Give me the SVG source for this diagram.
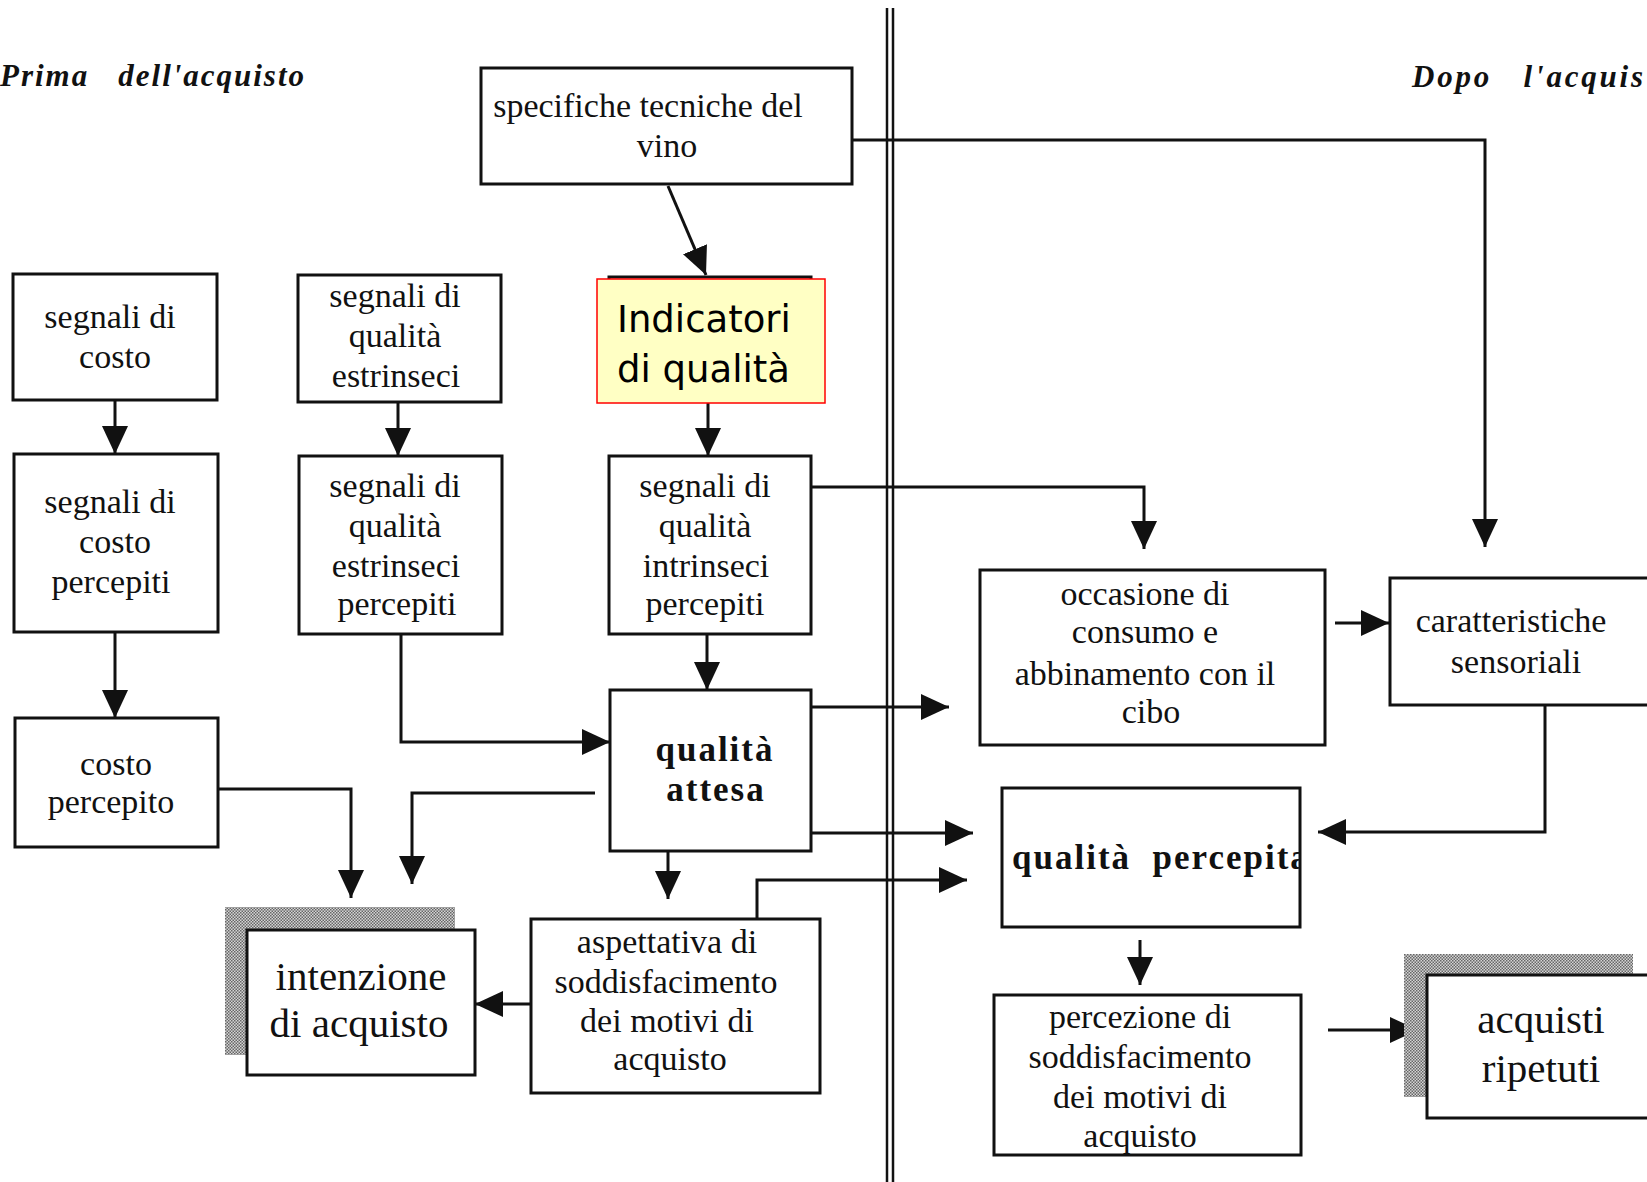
<svg xmlns="http://www.w3.org/2000/svg" width="1647" height="1182" viewBox="0 0 1647 1182">
<style>
.box{fill:#fff;stroke:#111;stroke-width:3}
.t{font-family:"Liberation Serif","Times New Roman",serif;font-size:34px;fill:#111;text-anchor:middle}
.big{font-size:41px}
.b{font-family:"Liberation Serif","Times New Roman",serif;font-size:35px;font-weight:bold;fill:#111;letter-spacing:2px}
.hdr{font-family:"Liberation Serif","Times New Roman",serif;font-size:31px;font-weight:bold;font-style:italic;fill:#111}
.c{fill:none;stroke:#111;stroke-width:3}
.ind{font-family:"DejaVu Sans","Verdana",sans-serif;font-size:37px;fill:#000}
</style>
<defs>
<marker id="ah" markerUnits="userSpaceOnUse" markerWidth="30" markerHeight="28" refX="28" refY="13" orient="auto">
<path d="M0,0 L28,13 L0,26 z" fill="#111"/>
</marker>
<pattern id="dots" width="3" height="3" patternUnits="userSpaceOnUse">
<rect width="3" height="3" fill="#d4d4d4"/>
<rect width="1.5" height="1.5" fill="#666"/>
<rect x="1.5" y="1.5" width="1.5" height="1.5" fill="#666"/>
</pattern>
<clipPath id="qpClip"><rect x="1004" y="790" width="295" height="135"/></clipPath>
</defs>
<rect width="1647" height="1182" fill="#fff"/>

<g id="headers">
<text class="hdr" x="0" y="86" xml:space="preserve" textLength="304" lengthAdjust="spacing">Prima   dell'acquisto</text>
<text class="hdr" x="1412" y="87" xml:space="preserve" textLength="231" lengthAdjust="spacing">Dopo   l'acquis</text>
</g>

<g id="divider">
<line x1="887" y1="8" x2="887" y2="1182" stroke="#111" stroke-width="2.5"/>
<line x1="893" y1="8" x2="893" y2="1182" stroke="#111" stroke-width="2.5"/>
</g>

<g id="connectors">
<path class="c" d="M668,186 L706,275" stroke-width="4" marker-end="url(#ah)"/>
<path class="c" d="M853,140 H1485 V547" marker-end="url(#ah)"/>
<path class="c" d="M115,400 V454" marker-end="url(#ah)"/>
<path class="c" d="M398,402 V456" marker-end="url(#ah)"/>
<path class="c" d="M708,403 V456" marker-end="url(#ah)"/>
<path class="c" d="M115,632 V718" marker-end="url(#ah)"/>
<path class="c" d="M401,634 V742 H610" marker-end="url(#ah)"/>
<path class="c" d="M707,634 V690" marker-end="url(#ah)"/>
<path class="c" d="M812,487 H1144 V549" marker-end="url(#ah)"/>
<path class="c" d="M812,707 H949" marker-end="url(#ah)"/>
<path class="c" d="M812,833 H973" marker-end="url(#ah)"/>
<path class="c" d="M757,919 V880 H967" marker-end="url(#ah)"/>
<path class="c" d="M218,789 H351 V898" marker-end="url(#ah)"/>
<path class="c" d="M595,793 H412 V884" marker-end="url(#ah)"/>
<path class="c" d="M668,851 V899" marker-end="url(#ah)"/>
<path class="c" d="M531,1004 H475" stroke-width="4" marker-end="url(#ah)"/>
<path class="c" d="M1335,623 H1389" marker-end="url(#ah)"/>
<path class="c" d="M1545,705 V832 H1318" marker-end="url(#ah)"/>
<path class="c" d="M1140,940 V985" marker-end="url(#ah)"/>
<path class="c" d="M1328,1030 H1418" marker-end="url(#ah)"/>
</g>

<g id="specifiche">
<rect class="box" x="481" y="68" width="371" height="116"/>
<text class="t" x="648" y="117">specifiche tecniche del</text>
<text class="t" x="667" y="157">vino</text>
</g>

<g id="indicatori">
<rect class="box" x="609" y="277" width="202" height="123"/>
<rect x="597" y="279" width="228" height="124" fill="#FFFFC4" stroke="#f00" stroke-width="1.5"/>
<text class="ind" x="617" y="332">Indicatori</text>
<text class="ind" x="617" y="382">di qualità</text>
</g>

<g id="segnali-costo">
<rect class="box" x="13" y="274" width="204" height="126"/>
<text class="t" x="110" y="328">segnali di</text>
<text class="t" x="115" y="368">costo</text>
</g>

<g id="segnali-estrinseci">
<rect class="box" x="298" y="275" width="203" height="127"/>
<text class="t" x="395" y="307">segnali di</text>
<text class="t" x="395" y="347">qualità</text>
<text class="t" x="396" y="387">estrinseci</text>
</g>

<g id="costo-percepiti">
<rect class="box" x="14" y="454" width="204" height="178"/>
<text class="t" x="110" y="513">segnali di</text>
<text class="t" x="115" y="553">costo</text>
<text class="t" x="111" y="593">percepiti</text>
</g>

<g id="estrinseci-percepiti">
<rect class="box" x="299" y="456" width="203" height="178"/>
<text class="t" x="395" y="497">segnali di</text>
<text class="t" x="395" y="537">qualità</text>
<text class="t" x="396" y="577">estrinseci</text>
<text class="t" x="397" y="615">percepiti</text>
</g>

<g id="intrinseci-percepiti">
<rect class="box" x="609" y="456" width="202" height="178"/>
<text class="t" x="705" y="497">segnali di</text>
<text class="t" x="705" y="537">qualità</text>
<text class="t" x="706" y="577">intrinseci</text>
<text class="t" x="705" y="615">percepiti</text>
</g>

<g id="costo-percepito">
<rect class="box" x="15" y="718" width="203" height="129"/>
<text class="t" x="116" y="775">costo</text>
<text class="t" x="111" y="813">percepito</text>
</g>

<g id="qualita-attesa">
<rect class="box" x="610" y="690" width="201" height="161"/>
<text class="b" x="715" y="761" text-anchor="middle">qualità</text>
<text class="b" x="716" y="801" text-anchor="middle">attesa</text>
</g>

<g id="intenzione">
<rect x="225" y="907" width="230" height="148" fill="url(#dots)"/>
<rect class="box" x="247" y="930" width="228" height="145"/>
<text class="t big" x="361" y="990">intenzione</text>
<text class="t big" x="359" y="1037">di acquisto</text>
</g>

<g id="aspettativa">
<rect class="box" x="531" y="919" width="289" height="174"/>
<text class="t" x="667" y="953">aspettativa di</text>
<text class="t" x="666" y="993">soddisfacimento</text>
<text class="t" x="667" y="1032">dei motivi di</text>
<text class="t" x="670" y="1070">acquisto</text>
</g>

<g id="occasione">
<rect class="box" x="980" y="570" width="345" height="175"/>
<text class="t" x="1145" y="605">occasione di</text>
<text class="t" x="1145" y="643">consumo e</text>
<text class="t" x="1145" y="685">abbinamento con il</text>
<text class="t" x="1151" y="723">cibo</text>
</g>

<g id="caratteristiche">
<rect class="box" x="1390" y="578" width="265" height="127"/>
<text class="t" x="1511" y="632">caratteristiche</text>
<text class="t" x="1516" y="673">sensoriali</text>
</g>

<g id="qualita-percepita">
<rect class="box" x="1002" y="788" width="298" height="139"/>
<text class="b" x="1012" y="869" xml:space="preserve" clip-path="url(#qpClip)">qualità  percepita</text>
</g>

<g id="percezione">
<rect class="box" x="994" y="995" width="307" height="160"/>
<text class="t" x="1140" y="1028">percezione di</text>
<text class="t" x="1140" y="1068">soddisfacimento</text>
<text class="t" x="1140" y="1108">dei motivi di</text>
<text class="t" x="1140" y="1147">acquisto</text>
</g>

<g id="acquisti">
<rect x="1404" y="954" width="229" height="143" fill="url(#dots)"/>
<rect class="box" x="1427" y="975" width="228" height="143"/>
<text class="t big" x="1541" y="1033">acquisti</text>
<text class="t big" x="1541" y="1082">ripetuti</text>
</g>
</svg>
